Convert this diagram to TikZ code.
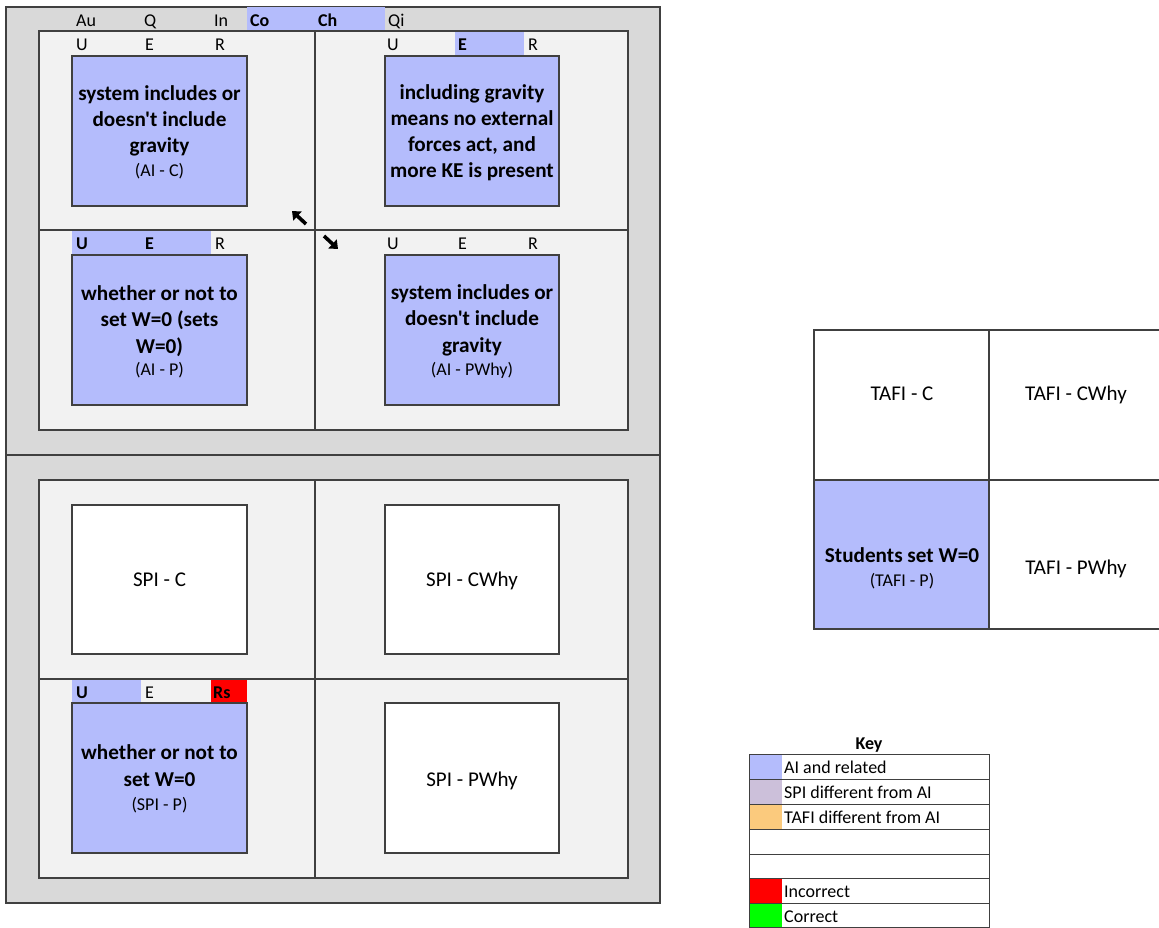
\documentclass[tikz,border=0pt]{standalone}
\usepackage{fontspec}
\setmainfont{Carlito}[Ligatures=TeXOff]
\usetikzlibrary{arrows.meta}
\definecolor{aiblue}{RGB}{180,188,252}
\definecolor{panelgray}{RGB}{217,217,217}
\definecolor{innergray}{RGB}{242,242,242}
\definecolor{bordergray}{RGB}{64,64,64}
\definecolor{spicol}{RGB}{204,192,218}
\definecolor{taficol}{RGB}{251,202,125}
\definecolor{redcol}{RGB}{255,0,0}
\definecolor{greencol}{RGB}{0,255,0}
\begin{document}
\begin{tikzpicture}[x=1pt,y=-1pt,
  panel/.style={draw=bordergray, line width=1.4pt, fill=panelgray},
  inner/.style={draw=bordergray, line width=1.2pt, fill=innergray},
  divider/.style={draw=bordergray, line width=1.1pt},
  cellbox/.style={draw=bordergray, line width=1.1pt, fill=aiblue},
  whitebox/.style={draw=bordergray, line width=1.1pt, fill=white},
  big/.style={font=\fontsize{21.2}{26.3}\selectfont\bfseries, align=center, anchor=base},
  small/.style={font=\fontsize{18}{20}\selectfont, anchor=base},
  plain/.style={font=\fontsize{21}{24}\selectfont, anchor=base},
  lbl/.style={font=\fontsize{18}{20}\selectfont, anchor=base west, inner sep=0pt},
  blbl/.style={font=\fontsize{18}{20}\selectfont\bfseries, anchor=base west, inner sep=0pt},
  keyline/.style={draw=bordergray, line width=0.9pt},
  arr/.style={line width=3.6pt, -{Triangle[length=7.5pt,width=12pt]}}
]
\useasboundingbox (0,0) rectangle (1159,928);

% ---------- top panel ----------
\path[panel] (6,7) rectangle (660,455);
\path[fill=aiblue] (247,7) rectangle (385,31);
\path[inner] (39,31) rectangle (628,430);
\path[divider] (315,31) -- (315,430);
\path[divider] (39,230) -- (628,230);

\node[lbl]  (hAu) at (76,26.5) {Au};
\node[lbl]  (hQ)  at (144,26.5) {Q};
\node[lbl]  (hIn) at (214,26.5) {In};
\node[blbl] (hCo) at (250,26.5) {Co};
\node[blbl] (hCh) at (318,26.5) {Ch};
\node[lbl]  (hQi) at (388,26.5) {Qi};

% top-left cell
\node[lbl] (u1) at (76,51) {U};
\node[lbl] (e1) at (145,51) {E};
\node[lbl] (r1) at (215,51) {R};
\path[cellbox] (72,56) rectangle (247,206);
\node[big] (t1) at (159.5,153) {system includes or\\doesn't include\\gravity};
\node[small] (t1s) at (159.5,177) {(AI - C)};

% top-right cell
\path[fill=aiblue] (455,32) rectangle (524,56);
\node[lbl] (u2) at (387,51) {U};
\node[blbl] (e2) at (458,51) {E};
\node[lbl] (r2) at (528,51) {R};
\path[cellbox] (385,56) rectangle (559,206);
\node[big] (t2) at (472,178) {including gravity\\means no external\\forces act, and\\more KE is present};

% bottom-left cell (top panel)
\path[fill=aiblue] (72,231) rectangle (211,255);
\node[blbl] (u3) at (76,250) {U};
\node[blbl] (e3) at (145,250) {E};
\node[lbl] (r3) at (215,250) {R};
\path[cellbox] (72,255) rectangle (247,405);
\node[big] (t3) at (159.5,353) {whether or not to\\set W=0 (sets\\W=0)};
\node[small] (t3s) at (159.5,375) {(AI - P)};

% bottom-right cell (top panel)
\node[lbl] (u4) at (387,250) {U};
\node[lbl] (e4) at (458,250) {E};
\node[lbl] (r4) at (528,250) {R};
\path[cellbox] (385,255) rectangle (559,405);
\node[big] (t4) at (472,352) {system includes or\\doesn't include\\gravity};
\node[small] (t4s) at (472,375) {(AI - PWhy)};

% arrows
\coordinate (a1s) at (306,224);
\coordinate (a1e) at (292,211);
\coordinate (a2s) at (324,236);
\coordinate (a2e) at (338,249);
\draw[arr] (a1s) -- (a1e);
\draw[arr] (a2s) -- (a2e);

% ---------- bottom panel ----------
\path[panel] (6,455) rectangle (660,903);
\path[inner] (39,480) rectangle (628,878);
\path[divider] (315,480) -- (315,878);
\path[divider] (39,679) -- (628,679);

\path[whitebox] (72,505) rectangle (247,654);
\node[plain] (spic) at (159.5,586) {SPI - C};
\path[whitebox] (385,505) rectangle (559,654);
\node[plain] (spicw) at (472,586) {SPI - CWhy};

\path[fill=aiblue] (72,680) rectangle (141,703);
\path[fill=redcol] (211,680) rectangle (247,703);
\node[blbl] (u5) at (76,698) {U};
\node[lbl] (e5) at (145,698) {E};
\node[blbl] (r5) at (213,698) {Rs};
\path[cellbox] (72,703) rectangle (247,853);
\node[big] (t5) at (159.5,786) {whether or not to\\set W=0};
\node[small] (t5s) at (159.5,810) {(SPI - P)};
\path[whitebox] (385,703) rectangle (559,853);
\node[plain] (spipw) at (472,786) {SPI - PWhy};

% ---------- TAFI table ----------
\path[fill=white] (814,330) rectangle (1159,629);
\path[fill=aiblue] (814,480) rectangle (989,629);
\draw[divider] (1160,330) -- (814,330) -- (814,629) -- (1160,629);
\draw[divider] (989,330) -- (989,629);
\draw[divider] (814,480) -- (1160,480);
\node[plain] (tc) at (902,400) {TAFI - C};
\node[plain] (tcw) at (1076,400) {TAFI - CWhy};
\node[big] (tp) at (902,562) {Students set W=0};
\node[small] (tps) at (902,586) {(TAFI - P)};
\node[plain] (tpw) at (1076,574) {TAFI - PWhy};

% ---------- Key ----------
\node[font=\fontsize{18}{20}\selectfont\bfseries, anchor=base] (key) at (869,749) {Key};
\path[fill=aiblue] (749,754) rectangle (782,779);
\path[fill=spicol] (749,779) rectangle (782,804);
\path[fill=taficol] (749,804) rectangle (782,829);
\path[fill=redcol] (749,878) rectangle (782,903);
\path[fill=greencol] (749,903) rectangle (782,928);
\draw[keyline] (749,754) rectangle (989,927.5);
\foreach \yy in {779,804,829,854,878,903} {
  \draw[keyline] (749,\yy) -- (989,\yy);
}
\node[lbl] (k1) at (784,773) {AI and related};
\node[lbl] (k2) at (784,798) {SPI different from AI};
\node[lbl] (k3) at (784,823) {TAFI different from AI};
\node[lbl] (k6) at (784,897) {Incorrect};
\node[lbl] (k7) at (784,922) {Correct};
\end{tikzpicture}
\end{document}
